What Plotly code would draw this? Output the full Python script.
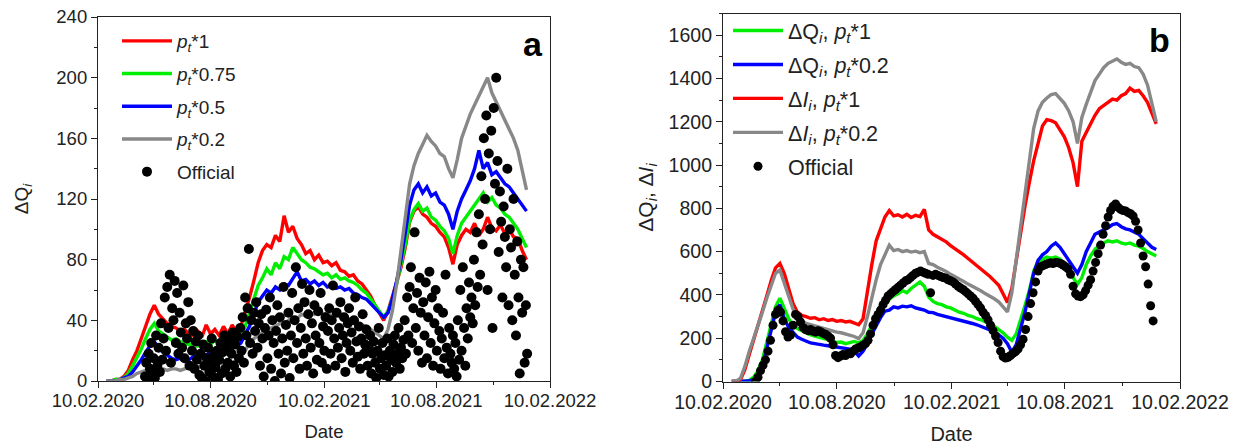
import pandas as pd
import plotly.graph_objects as go

# ---------------- data: panel a (weekly model curves, from 2020-02-24) ----------------
red_a = [0, 0, 1, 1, 3, 7, 14, 20, 28, 36,
         44, 50, 44, 41, 38, 36, 35, 33, 34, 31,
         30, 33, 29, 37, 31, 34, 30, 36, 31, 37,
         32, 36, 45, 55, 66, 78, 86, 90, 88, 96,
         92, 109, 98, 102, 94, 90, 84, 86, 80, 83,
         78, 79, 76, 78, 73, 72, 69, 70, 66, 64,
         60, 56, 50, 45, 40, 46, 55, 65, 75, 88,
         105, 112, 115, 110, 108, 104, 102, 98, 95, 88,
         77, 90, 96, 100, 98, 104, 96, 100, 108, 101,
         99, 103, 97, 100, 95, 94, 86, 80]
green_a = [0, 0, 1, 1, 2, 5, 10, 15, 21, 28,
           34, 38, 33, 31, 29, 27, 28, 26, 25, 24,
           25, 23, 24, 26, 24, 27, 25, 26, 24, 27,
           26, 28, 36, 45, 55, 63, 68, 74, 70, 78,
           74, 82, 80, 88, 84, 80, 78, 75, 74, 72,
           70, 71, 68, 70, 67, 68, 66, 65, 63, 60,
           58, 54, 50, 46, 42, 46, 54, 64, 76, 90,
           106, 113, 117, 112, 114, 108, 106, 102, 99, 94,
           84, 96, 104, 108, 112, 116, 120, 124, 118, 121,
           116, 114, 110, 108, 104, 100, 94, 88]
blue_a = [0, 0, 0, 1, 2, 3, 6, 10, 14, 19,
          23, 26, 22, 19, 17, 15, 14, 15, 13, 14,
          16, 17, 18, 17, 19, 18, 20, 21, 20, 22,
          23, 25, 30, 36, 44, 52, 56, 60, 58, 62,
          60, 64, 63, 68, 72, 66, 67, 64, 66, 63,
          65, 62, 63, 61, 62, 60, 61, 58, 57, 55,
          54, 51, 48, 45, 42, 45, 54, 66, 80, 98,
          116, 126, 130, 124, 128, 122, 124, 118, 116, 110,
          100, 112, 120, 126, 132, 140, 152, 140, 144, 136,
          138, 134, 130, 128, 124, 120, 116, 112]
gray_a = [0, 0, 0, 1, 1, 2, 3, 5, 6, 7,
          8, 8, 7, 8, 7, 8, 8, 7, 8, 9,
          8, 9, 10, 9, 11, 10, 12, 11, 13, 12,
          14, 16, 20, 25, 28, 30, 32, 33, 35, 36,
          38, 37, 40, 42, 41, 44, 43, 45, 44, 46,
          44, 45, 43, 44, 42, 43, 41, 40, 38, 37,
          36, 34, 32, 30, 28, 34, 46, 64, 86, 110,
          130, 142, 150, 156, 162, 158, 155, 150, 148, 140,
          134, 146, 160, 168, 176, 182, 188, 194, 200, 190,
          184, 178, 172, 166, 160, 152, 140, 126]

# official daily increments, every 2nd day from 2020-04-26
official_a = [3, 12, 0, 18, 8, 25, 5, 15, 2, 30, 10, 22, 6, 38, 14,
              28, 55, 20, 62, 35, 70, 12, 48, 40, 66, 25, 58, 18, 45, 32,
              22, 63, 15, 38, 28, 52, 10, 40, 20, 33, 8, 26, 14, 30, 4,
              18, 2, 24, 10, 0, 15, 22, 6, 12, 28, 3, 17, 9, 20, 1,
              14, 25, 5, 19, 30, 8, 22, 12, 27, 3, 18, 32, 10, 24, 6,
              29, 15, 35, 20, 42, 12, 55, 30, 48, 87, 25, 40, 18, 45, 33,
              52, 22, 38, 10, 44, 28, 3, 35, 47, 15, 30, 55, 8, 40, 25,
              0, 33, 50, 18, 42, 5, 28, 62, 12, 37, 20, 45, 2, 30, 58,
              15, 40, 75, 25, 48, 8, 35, 64, 18, 52, 28, 10, 44, 60, 22,
              38, 5, 50, 30, 14, 46, 25, 58, 12, 36, 20, 42, 8, 33, 48,
              18, 40, 63, 28, 10, 45, 22, 35, 52, 15, 30, 42, 6, 25, 38,
              48, 20, 32, 12, 40, 55, 26, 16, 36, 8, 28, 44, 18, 24, 34,
              10, 22, 30, 5, 18, 26, 12, 2, 20, 35, 8, 15, 25, 4, 17,
              10, 28, 3, 20, 14, 6, 24, 30, 12, 18, 35, 8, 22, 15, 27,
              40, 18, 55, 30, 62, 75, 25, 48, 98, 35, 58, 20, 68, 45, 12,
              52, 30, 65, 15, 42, 72, 25, 55, 10, 38, 60, 20, 48, 33, 8,
              28, 45, 15, 70, 22, 5, 35, 18, 12, 30, 8, 25, 3, 40, 14,
              60, 20, 75, 35, 10, 48, 28, 65, 42, 55, 38, 80, 50, 98, 62,
              110, 70, 135, 90, 160, 120, 175, 60, 150, 100, 165, 35, 180, 130, 200,
              145, 85, 125, 105, 55, 115, 95, 75, 140, 50, 100, 88, 40, 120, 70,
              30, 92, 55, 5, 80, 45, 75, 12, 50, 18]

# ---------------- data: panel b (weekly, from 2020-02-24) ----------------
green_b = [0, 0, 0, 0, 5, 20, 50, 100, 180, 270,
           345, 385, 340, 290, 260, 245, 235, 225, 215, 210,
           205, 200, 192, 188, 180, 182, 175, 180, 185, 178,
           190, 220, 260, 300, 330, 355, 380, 395, 405, 420,
           410, 430, 445, 460, 440, 390, 370, 360, 355, 345,
           340, 330, 320, 315, 305, 300, 290, 285, 275, 268,
           255, 240, 225, 205, 190, 220, 280, 350, 420, 510,
           555, 565, 575, 570, 575, 565, 545, 520, 480, 450,
           480, 540, 580, 610, 630, 640, 650, 645, 650, 640,
           635, 640, 630, 625, 615, 600, 590, 580]
blue_b = [0, 0, 0, 0, 2, 10, 30, 70, 150, 240,
          320, 355, 290, 250, 225, 205, 195, 185, 178, 175,
          170, 168, 165, 162, 160, 158, 155, 150, 140, 118,
          140, 175, 220, 260, 295, 325, 330, 345, 340, 348,
          345, 350, 340, 335, 330, 320, 318, 310, 305, 300,
          295, 290, 285, 282, 275, 268, 262, 255, 245, 240,
          230, 215, 200, 175, 135, 170, 240, 320, 410, 500,
          560, 585, 600, 625, 640, 620, 590, 560, 530, 500,
          540, 600, 640, 680, 690, 700, 710, 725, 730, 715,
          705, 700, 690, 680, 660, 640, 620, 610]
red_b = [0, 0, 8, 55, 125, 190, 255, 325, 395, 465,
         525, 545, 500, 430, 360, 320, 305, 300, 292, 295,
         285, 290, 282, 286, 278, 282, 275, 278, 268, 262,
         290, 420, 540, 650, 710, 760, 790, 765, 770, 760,
         772, 758, 768, 762, 795, 700, 680, 668, 655, 645,
         628, 615, 598, 585, 568, 552, 535, 520, 500, 485,
         465, 445, 405, 365, 430, 560, 690, 810, 920, 1020,
         1100, 1180, 1210, 1205, 1195, 1165, 1130, 1080, 1010, 900,
         1110, 1150, 1190, 1230, 1260, 1275, 1290, 1305, 1300, 1320,
         1330, 1355, 1340, 1345, 1320, 1290, 1240, 1190]
gray_b = [0, 2, 15, 70, 140, 200, 250, 320, 385, 445,
          500, 515, 455, 390, 335, 300, 280, 268, 262, 255,
          248, 244, 238, 234, 228, 225, 220, 215, 208, 198,
          225, 300, 390, 470, 540, 585, 630, 605, 610, 600,
          605, 598, 602, 595, 600, 545, 540, 528, 520, 508,
          495, 485, 472, 462, 450, 440, 428, 418, 405, 395,
          382, 368, 345, 322, 410, 560, 720, 880, 1030, 1170,
          1250, 1290, 1310, 1325, 1330, 1310, 1285, 1250, 1200, 1100,
          1220, 1280, 1340, 1390, 1420, 1450, 1470, 1480, 1490, 1475,
          1465, 1470, 1455, 1450, 1420, 1370, 1290, 1200]
# official, every 4th day from 2020-04-02
official_b = [0, 20, 50, 75, 100, 140, 190, 260, 310, 330,
              320, 280, 230, 205, 215, 260, 310, 300, 275, 250,
              240, 235, 240, 232, 228, 235, 230, 222, 218, 210,
              200, 170, 120, 110, 118, 125, 120, 130, 128, 140,
              150, 155, 160, 168, 175, 190, 220, 260, 290, 310,
              330, 355, 375, 395, 405, 415, 425, 435, 445, 455,
              465, 470, 480, 490, 500, 505, 510, 505, 500, 495,
              410, 490, 495, 490, 485, 480, 478, 470, 465, 460,
              450, 440, 432, 425, 415, 405, 395, 385, 370, 355,
              340, 320, 305, 285, 260, 235, 210, 180, 140, 115,
              108, 112, 120, 130, 138, 150, 170, 195, 240, 300,
              360, 410, 460, 510, 530, 535, 540, 545, 548, 545,
              550, 548, 545, 538, 530, 520, 495, 440, 405, 395,
              392, 400, 420, 445, 470, 510, 550, 590, 630, 680,
              720, 760, 790, 810, 820, 805, 795, 790, 788, 780,
              775, 765, 740, 700, 640, 580, 530, 450, 350, 280]

x_range = ["2020-02-10", "2022-02-10"]
major_dates = ["2020-02-10", "2020-08-10", "2021-02-10", "2021-08-10", "2022-02-10"]
major_labels = ["10.02.2020", "10.08.2020", "10.02.2021", "10.08.2021", "10.02.2022"]
minor_dates = ["2020-05-10", "2020-11-10", "2021-05-10", "2021-11-10"]

weeks = pd.date_range("2020-02-24", periods=len(red_a), freq="7D")
days_a = pd.date_range("2020-04-26", periods=len(official_a), freq="2D")
days_b = pd.date_range("2020-04-02", periods=len(official_b), freq="4D")

FONT = "Liberation Sans, Arial, sans-serif"
INK = "#222222"
RED, GREEN, BLUE, GRAY = "#ff0000", "#00ee00", "#0000ff", "#888888"
PT = "<i>p</i><sub><i>t</i></sub>"
LW = 3.4

fig = go.Figure()

def line(x, y, color, name, xa, ya, leg, grp):
    fig.add_trace(go.Scatter(x=x, y=y, mode="lines", name=name,
                             line=dict(color=color, width=LW),
                             xaxis=xa, yaxis=ya, legend=leg, legendgroup=grp))

line(weeks, red_a, RED, PT + "*1", "x", "y", "legend", "a1")
line(weeks, green_a, GREEN, PT + "*0.75", "x", "y", "legend", "a2")
line(weeks, blue_a, BLUE, PT + "*0.5", "x", "y", "legend", "a3")
line(weeks, gray_a, GRAY, PT + "*0.2", "x", "y", "legend", "a4")
fig.add_trace(go.Scatter(x=days_a, y=official_a, mode="markers", name="Official",
                         marker=dict(color="black", size=10), xaxis="x", yaxis="y",
                         legend="legend", legendgroup="a5"))

DQ = "ΔQ<sub><i>i</i></sub>"
DI = "Δ<i>I</i><sub><i>i</i></sub>"
line(weeks, green_b, GREEN, DQ + ", " + PT + "*1", "x2", "y2", "legend2", "b1")
line(weeks, blue_b, BLUE, DQ + ", " + PT + "*0.2", "x2", "y2", "legend2", "b2")
line(weeks, red_b, RED, DI + ", " + PT + "*1", "x2", "y2", "legend2", "b3")
line(weeks, gray_b, GRAY, DI + ", " + PT + "*0.2", "x2", "y2", "legend2", "b4")
fig.add_trace(go.Scatter(x=days_b, y=official_b, mode="markers", name="Official",
                         marker=dict(color="black", size=9), xaxis="x2", yaxis="y2",
                         legend="legend2", legendgroup="b5"))

W, H = 1236, 448
def px_x(p): return p / W
def px_y(p): return 1 - p / H

axis_common = dict(showgrid=False, zeroline=False, automargin=False,
                   linecolor=INK, linewidth=1.2, tickcolor=INK, tickwidth=1.2)

def xaxes(domain, anchor, tsize, title_size):
    return dict(axis_common, domain=domain, anchor=anchor, type="date", range=x_range,
                tickmode="array", tickvals=major_dates, ticktext=major_labels,
                ticks="outside", ticklen=6, showline=True, mirror=True,
                ticklabelstandoff=-3,
                minor=dict(tickmode="array", tickvals=minor_dates, ticks="outside",
                           ticklen=3, tickcolor=INK, tickwidth=1.2),
                tickfont=dict(size=tsize, family=FONT, color=INK),
                title=dict(text="Date", standoff=14,
                           font=dict(size=title_size, family=FONT, color=INK)))

def mirror_x(over, anchor):
    return dict(axis_common, overlaying=over, anchor=anchor, side="top", type="date",
                range=x_range, tickmode="array", tickvals=major_dates,
                ticks="inside", ticklen=6, showticklabels=False, showline=False,
                minor=dict(tickmode="array", tickvals=minor_dates, ticks="inside",
                           ticklen=3, tickcolor=INK, tickwidth=1.2))

def yaxes(domain, anchor, rng, vals, mdt, tsize, title, title_size, standoff):
    return dict(axis_common, domain=domain, anchor=anchor, range=rng,
                tickmode="array", tickvals=vals, ticks="outside", ticklen=6,
                showline=True, mirror=True,
                minor=dict(dtick=mdt, ticks="outside", ticklen=3, tickcolor=INK, tickwidth=1.2),
                tickfont=dict(size=tsize, family=FONT, color=INK),
                title=dict(text=title, standoff=standoff,
                           font=dict(size=title_size, family=FONT, color=INK)))

def mirror_y(over, anchor, rng, vals, mdt):
    return dict(axis_common, overlaying=over, anchor=anchor, side="right", range=rng,
                tickmode="array", tickvals=vals, ticks="inside", ticklen=6,
                showticklabels=False, showline=False,
                minor=dict(dtick=mdt, ticks="inside", ticklen=3, tickcolor=INK, tickwidth=1.2))

ya_vals = [0, 40, 80, 120, 160, 200, 240]
yb_vals = [0, 200, 400, 600, 800, 1000, 1200, 1400, 1600]
dom_xa = [px_x(98), px_x(550)]
dom_xb = [px_x(723), px_x(1180)]
dom_ya = [px_y(381), px_y(17)]
dom_yb = [px_y(381.5), px_y(13.5)]

fig.update_layout(
    width=W, height=H, margin=dict(l=0, r=0, t=0, b=0),
    paper_bgcolor="white", plot_bgcolor="white",
    font=dict(family=FONT, color=INK),
    showlegend=True,
    xaxis=xaxes(dom_xa, "y", 18.5, 18.5),
    yaxis=yaxes(dom_ya, "x", [0, 240], ya_vals, 20, 18.5, "ΔQ<sub><i>i</i></sub>", 19, 22),
    xaxis2=xaxes(dom_xb, "y2", 19.5, 20),
    yaxis2=yaxes(dom_yb, "x2", [0, 1700], yb_vals, 100, 19.5,
                 "ΔQ<sub><i>i</i></sub>, Δ<i>I</i><sub><i>i</i></sub>", 21, 9),
    xaxis3=mirror_x("x", "y"),
    yaxis3=mirror_y("y", "x", [0, 240], ya_vals, 20),
    xaxis4=mirror_x("x2", "y2"),
    yaxis4=mirror_y("y2", "x2", [0, 1700], yb_vals, 100),
    legend=dict(x=px_x(117), y=px_y(22), xanchor="left", yanchor="top",
                bgcolor="rgba(0,0,0,0)", font=dict(size=19, family=FONT, color=INK),
                tracegroupgap=5, itemwidth=50),
    legend2=dict(x=px_x(728), y=px_y(10), xanchor="left", yanchor="top",
                 bgcolor="rgba(0,0,0,0)", font=dict(size=21.5, family=FONT, color=INK),
                 tracegroupgap=3, itemwidth=50),
    annotations=[
        dict(text="<b>a</b>", x=px_x(533), y=px_y(44), xref="paper", yref="paper",
             xanchor="center", yanchor="middle",
             showarrow=False, font=dict(size=34, family=FONT, color="black")),
        dict(text="<b>b</b>", x=px_x(1159), y=px_y(40), xref="paper", yref="paper",
             xanchor="center", yanchor="middle",
             showarrow=False, font=dict(size=34, family=FONT, color="black")),
    ],
)

fig.write_html("out.html")
